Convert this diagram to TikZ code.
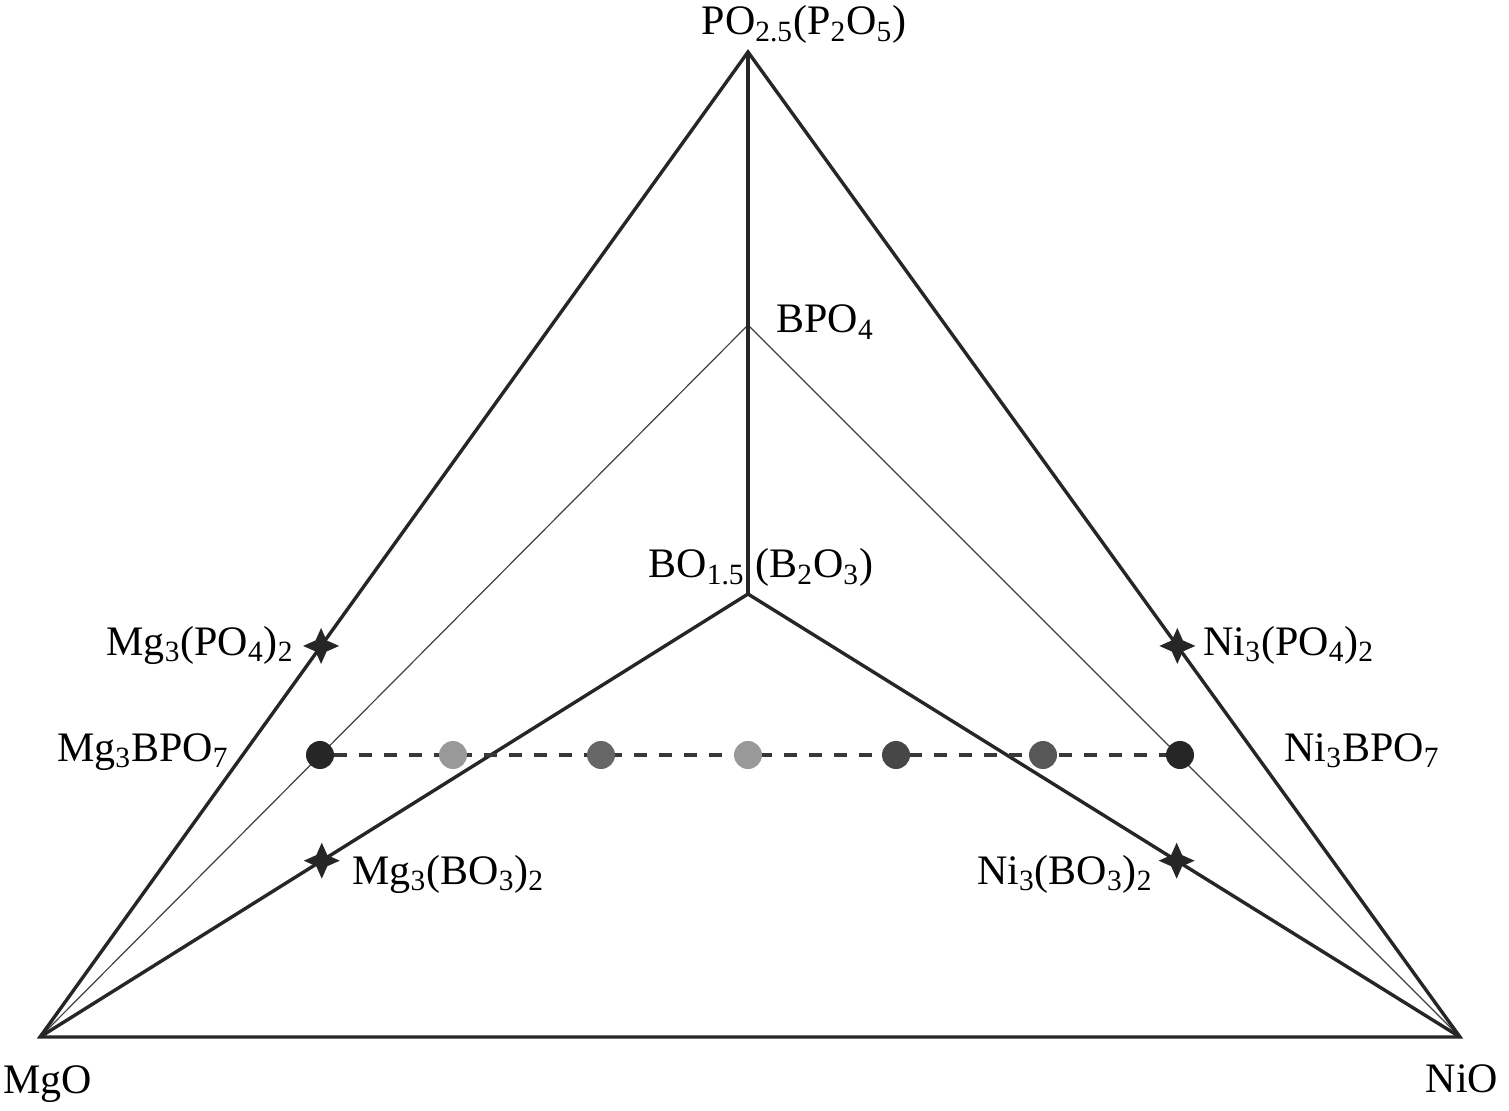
\documentclass[tikz,border=0pt]{standalone}
\usepackage{fontspec}
\setmainfont{Liberation Serif}
\usetikzlibrary{shapes.geometric,calc}
\newcommand\sbs[1]{\textsubscript{#1}}
\begin{document}
\begin{tikzpicture}[x=0.5pt,y=-0.5pt,
		thickline/.style={line width=1.7pt,black!85},
		thinline/.style={line width=0.6pt,black!75},
		tieline/.style={line width=2pt,black!78,dash pattern=on 6.5pt off 6pt},
		phase/.style={circle,inner sep=0pt,minimum size=14pt},
		spark/.style={star,star points=4,star point ratio=2.3,minimum size=18pt,inner sep=0pt,fill=black!85},
		lab/.style={font=\fontsize{21}{24}\selectfont,inner sep=0pt}]
	\useasboundingbox (0,0) rectangle (1509,1111);
	\coordinate (MgO) at (40,1037);
	\coordinate (NiO) at (1460,1037);
	\coordinate (P) at (748,52);
	\coordinate (BPO) at (748,325);
	\coordinate (B) at (748,594);
	% phase lines
	\draw[thinline] (MgO) -- (BPO) -- (NiO);
	\draw[thickline] (MgO) -- (NiO) -- (P) -- cycle;
	\draw[thickline] (P) -- (B);
	\draw[thickline] (MgO) -- (B) -- (NiO);
	% tie line
	\node[phase,fill=black!85] (mgbpo) at (320,755) {};
	\node[phase,fill=black!85] (nibpo) at (1180,755) {};
	\draw[tieline] (mgbpo) -- (nibpo);
	\node[phase,fill=black!40] (x1) at (453,755) {};
	\node[phase,fill=black!60] (x2) at (601,755) {};
	\node[phase,fill=black!40] (x3) at (748,755) {};
	\node[phase,fill=black!72] (x4) at (896,755) {};
	\node[phase,fill=black!66] (x5) at (1043,755) {};
	% stars
	\node[spark] (mgpo) at ($(MgO)!0.397!(P)$) {};
	\node[spark] (nipo) at ($(NiO)!0.397!(P)$) {};
	\node[spark] (mgbo) at ($(MgO)!0.398!(B)$) {};
	\node[spark] (nibo) at ($(NiO)!0.398!(B)$) {};
	% labels
	\node[lab,anchor=base] (lP) at (804,35) {PO\sbs{2.5}(P\sbs{2}O\sbs{5})};
	\node[lab,anchor=base west] (lBPO) at (776,333) {BPO\sbs{4}};
	\node[lab,anchor=base east] (lB) at (745,578) {BO\sbs{1.5}};
	\node[lab,anchor=base west] (lB2) at (755,578) {(B\sbs{2}O\sbs{3})};
	\node[lab,anchor=base east] (lmgpo) at (294,655) {Mg\sbs{3}(PO\sbs{4})\sbs{2}};
	\node[lab,anchor=base west] (lnipo) at (1203,655) {Ni\sbs{3}(PO\sbs{4})\sbs{2}};
	\node[lab,anchor=base east] (lmgbpo) at (229,761) {Mg\sbs{3}BPO\sbs{7}};
	\node[lab,anchor=base west] (lnibpo) at (1284,761) {Ni\sbs{3}BPO\sbs{7}};
	\node[lab,anchor=base west] (lmgbo) at (352,884) {Mg\sbs{3}(BO\sbs{3})\sbs{2}};
	\node[lab,anchor=base east] (lnibo) at (1153,884) {Ni\sbs{3}(BO\sbs{3})\sbs{2}};
	\node[lab,anchor=base] (lMgO) at (48,1093) {MgO};
	\node[lab,anchor=base] (lNiO) at (1462,1092) {NiO};
\end{tikzpicture}
\end{document}
